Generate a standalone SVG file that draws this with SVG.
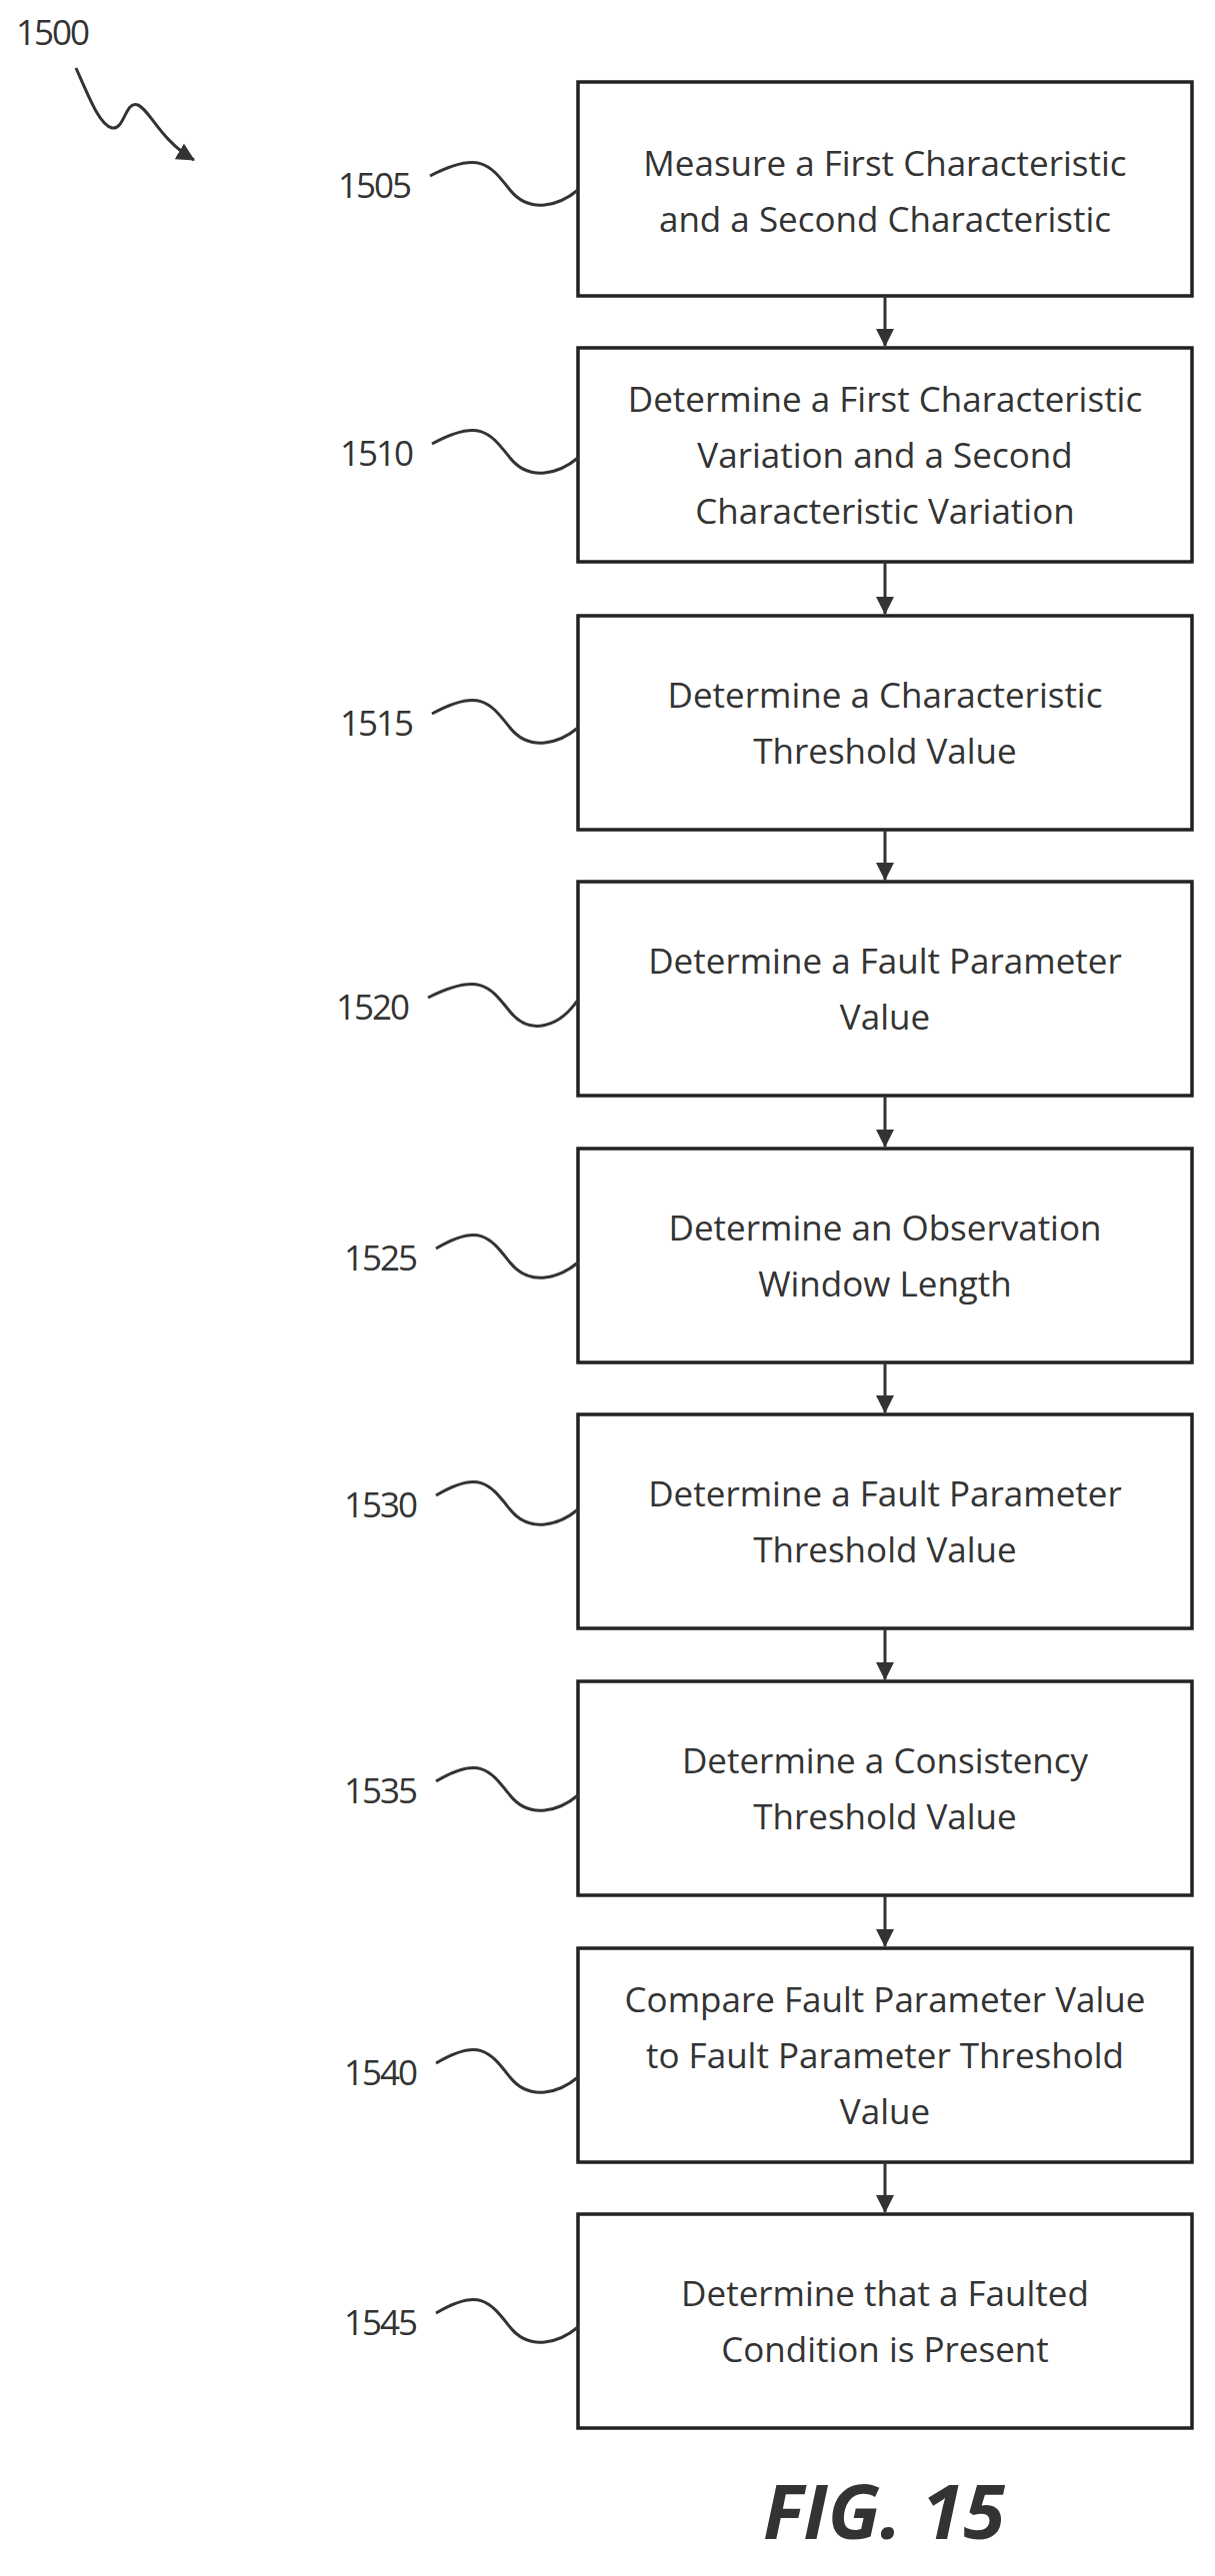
<svg xmlns="http://www.w3.org/2000/svg" width="1215" height="2577" viewBox="0 0 1215 2577">
<style>
.b{fill:#fff;stroke:#222;stroke-width:3.5}
.t{font-family:"Open Sans","Liberation Sans",sans-serif;font-size:35px;fill:#333;text-anchor:middle}
.l{font-family:"Open Sans","Liberation Sans",sans-serif;font-size:35px;fill:#333;letter-spacing:-2px}
.c{fill:none;stroke:#333;stroke-width:3}
</style>
<defs><marker id="a" markerWidth="18" markerHeight="18" refX="17" refY="9" orient="auto" markerUnits="userSpaceOnUse" viewBox="0 0 18 18"><path d="M0,0L18,9L0,18z" fill="#333"/></marker>
<marker id="h" markerWidth="18" markerHeight="18" refX="17" refY="9" orient="auto" markerUnits="userSpaceOnUse" viewBox="0 0 18 18"><path d="M0,0L18,9L0,18z" fill="#333"/></marker></defs>
<text class="l" x="16" y="45">1500</text>
<path class="c" d="M76,68 C90,100 100,125 112,128 C125,130 125,100 138,105 C150,110 160,140 194,160" marker-end="url(#h)"/>
<g id="n1505"><rect class="b" x="578" y="82" width="614" height="214"/><text class="t" x="885" y="176">Measure a First Characteristic</text><text class="t" x="885" y="232">and a Second Characteristic</text><text class="l" x="338" y="198">1505</text><path class="c" d="M430,176 C480,150 490,165 510,190 C530,215 560,205 578,190"/></g>
<g id="n1510"><rect class="b" x="578" y="348" width="614" height="214"/><text class="t" x="885" y="412">Determine a First Characteristic</text><text class="t" x="885" y="468">Variation and a Second</text><text class="t" x="885" y="524">Characteristic Variation</text><text class="l" x="340" y="466">1510</text><path class="c" d="M432,444 C480,418 490,433 510,458 C530,483 560,473 578,458"/></g>
<g id="n1515"><rect class="b" x="578" y="616" width="614" height="214"/><text class="t" x="885" y="708">Determine a Characteristic</text><text class="t" x="885" y="764">Threshold Value</text><text class="l" x="340" y="736">1515</text><path class="c" d="M432,714 C480,688 490,703 510,728 C530,753 560,743 578,728"/></g>
<g id="n1520"><rect class="b" x="578" y="882" width="614" height="214"/><text class="t" x="885" y="974">Determine a Fault Parameter</text><text class="t" x="885" y="1030">Value</text><text class="l" x="336" y="1020">1520</text><path class="c" d="M428,998 C480,972 490,987 510,1012 C530,1037 560,1027 578,1000"/></g>
<g id="n1525"><rect class="b" x="578" y="1149" width="614" height="214"/><text class="t" x="885" y="1241">Determine an Observation</text><text class="t" x="885" y="1297">Window Length</text><text class="l" x="344" y="1271">1525</text><path class="c" d="M436,1249 C480,1223 490,1238 510,1263 C530,1288 560,1278 578,1263"/></g>
<g id="n1530"><rect class="b" x="578" y="1415" width="614" height="214"/><text class="t" x="885" y="1507">Determine a Fault Parameter</text><text class="t" x="885" y="1563">Threshold Value</text><text class="l" x="344" y="1518">1530</text><path class="c" d="M436,1496 C480,1470 490,1485 510,1510 C530,1535 560,1525 578,1510"/></g>
<g id="n1535"><rect class="b" x="578" y="1682" width="614" height="214"/><text class="t" x="885" y="1774">Determine a Consistency</text><text class="t" x="885" y="1830">Threshold Value</text><text class="l" x="344" y="1804">1535</text><path class="c" d="M436,1782 C480,1756 490,1771 510,1796 C530,1821 560,1811 578,1796"/></g>
<g id="n1540"><rect class="b" x="578" y="1949" width="614" height="214"/><text class="t" x="885" y="2013">Compare Fault Parameter Value</text><text class="t" x="885" y="2069">to Fault Parameter Threshold</text><text class="t" x="885" y="2125">Value</text><text class="l" x="344" y="2086">1540</text><path class="c" d="M436,2064 C480,2038 490,2053 510,2078 C530,2103 560,2093 578,2078"/></g>
<g id="n1545"><rect class="b" x="578" y="2215" width="614" height="214"/><text class="t" x="885" y="2307">Determine that a Faulted</text><text class="t" x="885" y="2363">Condition is Present</text><text class="l" x="344" y="2336">1545</text><path class="c" d="M436,2314 C480,2288 490,2303 510,2328 C530,2353 560,2343 578,2328"/></g>
<g id="connectors">
<path class="c" d="M885,296V346" marker-end="url(#a)"/>
<path class="c" d="M885,562V614" marker-end="url(#a)"/>
<path class="c" d="M885,830V880" marker-end="url(#a)"/>
<path class="c" d="M885,1096V1147" marker-end="url(#a)"/>
<path class="c" d="M885,1363V1413" marker-end="url(#a)"/>
<path class="c" d="M885,1629V1680" marker-end="url(#a)"/>
<path class="c" d="M885,1896V1947" marker-end="url(#a)"/>
<path class="c" d="M885,2163V2213" marker-end="url(#a)"/>
</g>
<text x="763" y="2540" style="font-family:'Open Sans','Liberation Sans',sans-serif;font-size:76px;font-style:italic;font-weight:bold;fill:#333">FIG. 15</text>
</svg>
